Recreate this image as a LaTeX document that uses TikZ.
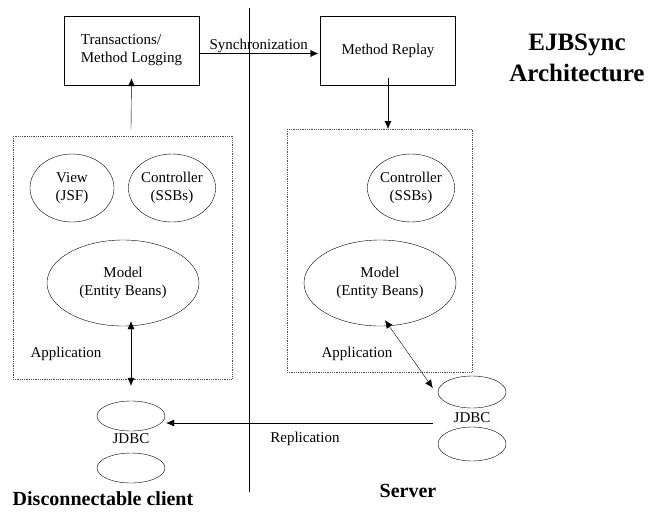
\documentclass[tikz,border=0pt]{standalone}
\usepackage{fontspec}
\setmainfont{Liberation Serif}
\usetikzlibrary{arrows.meta,shapes.geometric}

\begin{document}
\begin{tikzpicture}[x=1pt,y=-1pt,>={Latex[length=8pt,width=7pt]},thin,
  font=\fontsize{15}{18}\selectfont,
  unit/.style={draw,rectangle,minimum width=135pt,minimum height=69pt,align=left},
  app/.style={draw=black!70,densely dotted,line width=0.8pt},
  part/.style={draw,ellipse,inner sep=0pt,align=center},
  db/.style={draw,ellipse,minimum width=68pt,minimum height=30pt,inner sep=0pt},
  side/.style={font=\fontsize{20}{24}\selectfont\bfseries}]
\useasboundingbox (0,0) rectangle (666,511);
% client / server divider
\coordinate (top) at (249,8);
\coordinate (bottom) at (249,492);
\draw (top) -- (bottom);

\node[unit] (translog) at (131.5,50.5) {Transactions/\\Method Logging};
\node[unit] (replay) at (388,50.5) {Method Replay};

\draw[app] (13,136) rectangle (232,379);
\coordinate (lapp) at (131,136);
\draw[app] (287,129) rectangle (472,372);
\coordinate (rapp) at (388,129);

\node[part,minimum width=84pt,minimum height=68pt] (lview) at (72,188) {View\\(JSF)};
\node[part,minimum width=84pt,minimum height=68pt] (lctrl) at (172,188) {Controller\\(SSBs)};
\node[part,minimum width=152pt,minimum height=86pt] (lmodel) at (123,283) {Model\\(Entity Beans)};
\node (lapplabel) at (66,354) {Application};

\node[part,minimum width=82pt,minimum height=68pt] (rctrl) at (411,188) {Controller\\(SSBs)};
\node[part,minimum width=152pt,minimum height=86pt] (rmodel) at (380,283) {Model\\(Entity Beans)};
\node (rapplabel) at (357,354) {Application};

\node[db] (ldb1) at (131,416) {};
\node (ljdbc) at (131,439) {JDBC};
\node[db] (ldb2) at (131,468) {};

\node[db,minimum height=32pt] (rdb1) at (472,392) {};
\node (rjdbc) at (472,418) {JDBC};
\node[db,minimum height=34pt] (rdb2) at (472,444) {};

\node[side] (client) at (103,499) {Disconnectable client};
\node[side] (server) at (408,491) {Server};
\node[font=\fontsize{25}{31}\selectfont\bfseries,align=center] (title) at (577,58) {EJBSync\\Architecture};

\draw[->] ([yshift=7pt]lapp) -- ([yshift=7pt]translog.south);
\draw[->] ([yshift=-3pt]translog.east) -- node[above=0pt,inner sep=1pt] {Synchronization} ([yshift=-3pt,xshift=-2pt]replay.west);
\draw[->] ([yshift=7pt]replay.south) -- (rapp);
\draw[<->] ([yshift=5pt]lmodel.south -| ldb1.north) -- ([yshift=15pt]ldb1.north);
\draw[<->] ([xshift=5pt,yshift=6pt]rmodel.south) -- ([xshift=-5pt,yshift=4pt]rdb1.west);
\coordinate (replstart) at (433,423);
\draw[->] (replstart) -- node[below=6pt,pos=0.48] {Replication} ([xshift=1pt]ldb1.east |- replstart);
\end{tikzpicture}
\end{document}
